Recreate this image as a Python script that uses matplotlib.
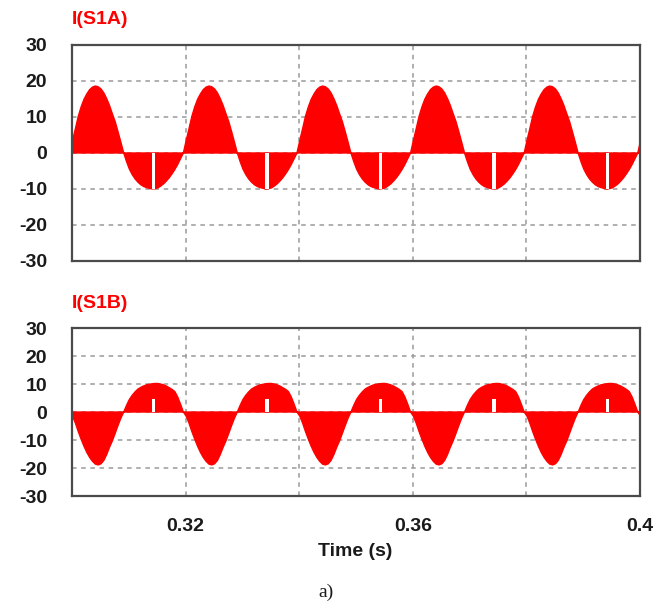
import numpy as np
import matplotlib

matplotlib.use("Agg")
import matplotlib.pyplot as plt

plt.rcParams["font.family"] = ["Liberation Sans", "DejaVu Sans"]
plt.rcParams["axes.unicode_minus"] = False

step_s = 0.0005
# I(S1A): 9.5 ms positive lobe, then 10.5 ms negative lobe
pos_lobe_a = [0, 3.5, 6.8, 10.2, 12.8, 14.9, 16.4, 17.6, 18.3, 18.6,
              18.4, 17.8, 16.7, 15.1, 13.2, 10.9, 8.7, 5.9, 3.0, 0]
neg_lobe_a = [0, -2.4, -4.5, -6.0, -7.2, -8.1, -8.8, -9.3, -9.6, -9.8, -10.0,
              -9.9, -9.7, -9.2, -8.6, -7.8, -6.9, -5.8, -4.6, -3.2, -1.6, 0]
# I(S1B): 9.5 ms negative lobe, then 10.5 ms positive lobe
neg_lobe_b = [0, -1.5, -4.0, -7.0, -9.7, -12.2, -14.4, -16.2, -17.6, -18.6,
              -18.9, -18.5, -17.3, -15.2, -12.6, -10.3, -7.6, -4.8, -2.2, 0]
pos_lobe_b = [0, 2.4, 4.5, 6.0, 7.2, 8.2, 8.8, 9.3, 9.7, 9.9, 10.1,
              10.2, 10.2, 10.0, 9.7, 9.3, 8.7, 8.1, 7.3, 5.4, 2.8, 0]

# start of each period (rising zero crossing of I(S1A))
cycle_starts = [0.2796, 0.2996, 0.3196, 0.3396, 0.3596, 0.3796, 0.3996]

# notches in the middle of the small lobe
gap_times = [0.3143, 0.3343, 0.3543, 0.3743, 0.3943]
gap_depth_a = -9.9
gap_depth_b = 4.8
gap_width = 0.0006

red = "#ff0000"


def build(first, second):
    cycle = np.array(first + second[1:])
    t, y = [], []
    for t0 in cycle_starts:
        t.append(t0 + np.arange(len(cycle)) * step_s)
        y.append(cycle)
    return np.concatenate(t), np.concatenate(y)


t_a, i_a = build(pos_lobe_a, neg_lobe_a)
t_b, i_b = build(neg_lobe_b, pos_lobe_b)

fig = plt.figure(figsize=(6.56, 6.04), dpi=100)
ax1 = fig.add_axes([0.1098, 0.5679, 0.8659, 0.3576])
ax2 = fig.add_axes([0.1098, 0.1788, 0.8659, 0.2781])

for ax, t, y, gd, name, ty in [
    (ax1, t_a, i_a, gap_depth_a, "I(S1A)", 0.9685),
    (ax2, t_b, i_b, gap_depth_b, "I(S1B)", 0.498),
]:
    ax.fill_between(t, 0, y, color=red, linewidth=1.0, edgecolor=red, zorder=2)
    ax.bar(gap_times, [gd] * len(gap_times), width=gap_width, color="white",
           linewidth=0, zorder=3)
    ax.set_xlim(0.3, 0.4)
    ax.set_ylim(-30, 30)
    ax.set_yticks([-30, -20, -10, 0, 10, 20, 30])
    ax.set_xticks([0.32, 0.36, 0.40])
    ax.set_xticks([0.34, 0.38], minor=True)
    ax.set_xticklabels(["0.32", "0.36", "0.4"])
    ax.grid(True, which="both", color="#9a9a9a", linestyle=(0, (3, 3)),
            linewidth=1.1, zorder=1)
    ax.set_axisbelow(True)
    ax.tick_params(which="both", length=0, labelsize=14, pad=18,
                   labelcolor="#1a1a1a")
    for lab in ax.get_yticklabels() + ax.get_xticklabels():
        lab.set_fontweight("bold")
    for sp in ax.spines.values():
        sp.set_color("#4a4a4a")
        sp.set_linewidth(1.6)
    fig.text(0.1098, ty, name, color=red, fontsize=14, fontweight="bold",
             va="center", ha="left")

ax1.set_xticklabels([])
ax2.tick_params(axis="x", pad=16)

fig.text(0.541, 1 - 552 / 604, "Time (s)", fontsize=14, fontweight="bold",
         ha="center", va="center", color="#1a1a1a")
fig.text(0.497, 1 - 592 / 604, "a)", fontsize=14, family="Liberation Serif",
         ha="center", va="center", color="#1a1a1a")

fig.savefig("out.png", dpi=100)
